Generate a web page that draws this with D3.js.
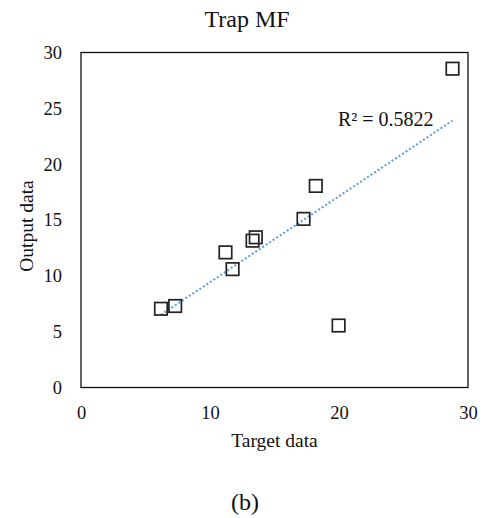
<!DOCTYPE html>
<html>
<head>
<meta charset="utf-8">
<script src="https://cdn.jsdelivr.net/npm/d3@7"></script>
<style>
  body { margin: 0; background: #fff; }
  text { font-family: "Liberation Serif", "Times New Roman", serif; fill: #111; }
</style>
</head>
<body>
<div class="svg-container"></div>
<script>
var width = 486;
var height = 518;

// plot box edges
var margin = { top: 52.5, right: 18, bottom: 130.5, left: 81 };

// data
var targetData = [6.2, 7.3, 11.2, 11.75, 13.3, 13.55, 17.25, 18.2, 19.97, 28.8];
var outputData = [7.05, 7.3, 12.1, 10.6, 13.15, 13.45, 15.1, 18.05, 5.55, 28.55];
var xTicks = [0, 10, 20, 30];
var yTicks = [0, 5, 10, 15, 20, 25, 30];
var r2Label = "R² = 0.5822";

var svg = d3.select(".svg-container")
    .append("svg")
    .attr("width", width)
    .attr("height", height);

var plotW = width - margin.left - margin.right;
var plotH = height - margin.top - margin.bottom;

var g = svg.append("g")
    .attr("transform", "translate(" + margin.left + "," + margin.top + ")");

var scaleX = d3.scaleLinear().domain([0, 30]).range([0, plotW]);
var scaleY = d3.scaleLinear().domain([0, 30]).range([plotH, 0]);

// plot frame
g.append("rect")
    .attr("width", plotW)
    .attr("height", plotH)
    .attr("fill", "none")
    .attr("stroke", "#111")
    .attr("stroke-width", 1.3);

// axes: labels only, no tick lines
var xAxis = g.append("g")
    .attr("transform", "translate(0," + plotH + ")")
    .call(d3.axisBottom(scaleX).tickValues(xTicks).tickSize(0).tickPadding(18));
var yAxis = g.append("g")
    .call(d3.axisLeft(scaleY).tickValues(yTicks).tickSize(0).tickPadding(19));

[xAxis, yAxis].forEach(function(a) {
    a.select(".domain").remove();
    a.selectAll("text")
        .attr("font-family", "Liberation Serif, serif")
        .attr("font-size", 18.5)
        .attr("fill", "#111");
});

// least squares trend line
var pts = targetData.map(function(x, i) { return { x: x, y: outputData[i] }; });
var mx = d3.mean(targetData), my = d3.mean(outputData);
var sxy = d3.sum(pts, function(d) { return (d.x - mx) * (d.y - my); });
var sxx = d3.sum(pts, function(d) { return (d.x - mx) * (d.x - mx); });
var slope = sxy / sxx;
var intercept = my - slope * mx;
var xr = d3.extent(targetData);

g.append("line")
    .attr("x1", scaleX(xr[0]))
    .attr("y1", scaleY(slope * xr[0] + intercept))
    .attr("x2", scaleX(xr[1]))
    .attr("y2", scaleY(slope * xr[1] + intercept))
    .attr("stroke", "#5b9bd5")
    .attr("stroke-width", 2)
    .attr("stroke-dasharray", "2,2.2");

// square markers
var size = 12.5;
g.selectAll(".pt")
    .data(pts)
    .enter()
    .append("rect")
    .attr("class", "pt")
    .attr("x", function(d) { return scaleX(d.x) - size / 2; })
    .attr("y", function(d) { return scaleY(d.y) - size / 2; })
    .attr("width", size)
    .attr("height", size)
    .attr("fill", "none")
    .attr("stroke", "#222")
    .attr("stroke-width", 1.7);

// R squared label
g.append("text")
    .attr("x", 257)
    .attr("y", 73.5)
    .attr("font-size", 20)
    .text(r2Label);

// titles and labels
svg.append("text")
    .attr("x", 247)
    .attr("y", 27)
    .attr("text-anchor", "middle")
    .attr("font-size", 24)
    .text("Trap MF");

svg.append("text")
    .attr("x", margin.left + plotW / 2)
    .attr("y", 447)
    .attr("text-anchor", "middle")
    .attr("font-size", 19.5)
    .text("Target data");

svg.append("text")
    .attr("transform", "rotate(-90)")
    .attr("x", -226)
    .attr("y", 33)
    .attr("text-anchor", "middle")
    .attr("font-size", 19.5)
    .text("Output data");

svg.append("text")
    .attr("x", 245)
    .attr("y", 510)
    .attr("text-anchor", "middle")
    .attr("font-size", 24)
    .text("(b)");
</script>
</body>
</html>
